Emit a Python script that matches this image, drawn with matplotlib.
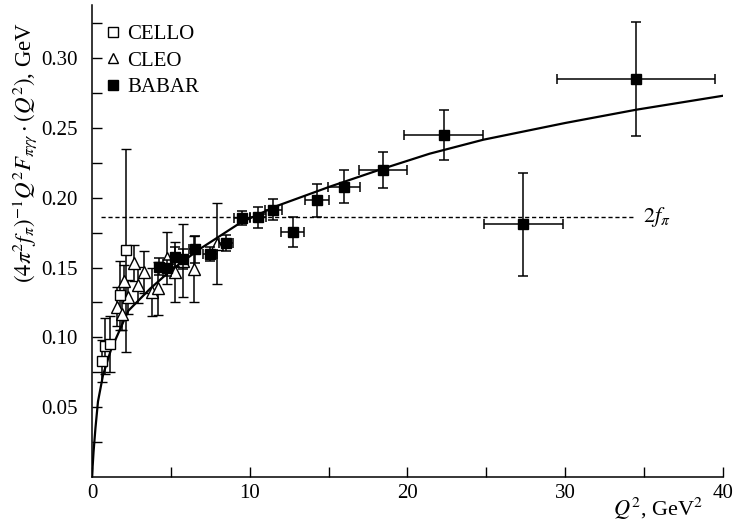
import numpy as np
import matplotlib
matplotlib.use("Agg")
import matplotlib.pyplot as plt

plt.rcParams['font.family'] = 'Liberation Serif'
plt.rcParams['mathtext.fontset'] = 'stix'

# CELLO (open squares)
cello_q2 = [0.61, 0.82, 1.14, 1.77, 2.15]
cello_v = [0.083, 0.094, 0.095, 0.130, 0.1626]
cello_lo = [0.015, 0.020, 0.020, 0.025, 0.073]
cello_hi = [0.015, 0.020, 0.020, 0.025, 0.072]

# CLEO (open triangles)
cleo_q2 = [1.56, 1.88, 2.05, 2.30, 2.68, 2.90, 3.30, 3.78, 4.20, 4.73, 5.26, 5.74, 6.46, 7.95]
cleo_v = [0.122, 0.117, 0.140, 0.129, 0.153, 0.1375, 0.147, 0.1325, 0.135, 0.157, 0.147, 0.155, 0.149, 0.167]
cleo_err = [0.014, 0.012, 0.012, 0.012, 0.013, 0.013, 0.015, 0.017, 0.019, 0.0185, 0.0215, 0.026, 0.0235, 0.029]

# BABAR (filled squares)
babar_q2 = [4.25, 4.75, 5.26, 5.77, 6.50, 7.48, 8.50, 9.50, 10.50, 11.50, 12.72, 14.27, 15.97, 18.44, 22.30, 27.35, 34.50]
babar_v = [0.1505, 0.1497, 0.1576, 0.156, 0.163, 0.160, 0.1676, 0.1855, 0.186, 0.1915, 0.1755, 0.198, 0.208, 0.220, 0.245, 0.181, 0.285]
babar_yerr = [0.006, 0.006, 0.007, 0.007, 0.0095, 0.005, 0.006, 0.005, 0.0075, 0.0075, 0.0105, 0.012, 0.012, 0.013, 0.018, 0.037, 0.041]
babar_xerr = [0.25, 0.25, 0.25, 0.25, 0.35, 0.45, 0.45, 0.5, 0.5, 0.55, 0.75, 0.76, 1.0, 1.5, 2.5, 2.5, 5.0]

# theory curve
curve_q2 = [0, 0.1, 0.22, 0.38, 0.7, 1.2, 2.3, 3.7, 5.0, 6.8, 9.4, 11.7, 15.1, 18.5, 21.4, 24.8, 30.0, 34.5, 40.0]
curve_v = [0, 0.018, 0.035, 0.054, 0.073, 0.091, 0.119, 0.135, 0.148, 0.163, 0.182, 0.194, 0.208, 0.221, 0.2315, 0.2415, 0.2535, 0.263, 0.273]

two_fpi = 0.186

fig = plt.figure(figsize=(7.37, 5.24), dpi=100)
ax = fig.add_axes([0.1248, 0.0897, 0.8562, 0.9008])

ax.plot(curve_q2, curve_v, color='black', lw=1.6, zorder=2)
ax.plot([0.6, 34.3], [two_fpi, two_fpi], color='black', lw=1.0, dashes=(3, 2), zorder=1)
ax.text(34.9, two_fpi, r'$2f_\pi$', fontsize=16, va='center', ha='left')

ekw = dict(ecolor='black', elinewidth=1.1, capsize=3.5, capthick=1.1, linestyle='none')
ax.errorbar(cleo_q2, cleo_v, yerr=cleo_err, marker='^', ms=8.5, mfc='white', mec='black',
            mew=1.0, zorder=3, **ekw)
ax.errorbar(cello_q2, cello_v, yerr=[cello_lo, cello_hi], marker='s', ms=7, mfc='white', mec='black',
            mew=1.0, zorder=3, **ekw)
ax.errorbar(babar_q2, babar_v, yerr=babar_yerr, xerr=babar_xerr, marker='s', ms=7.5, mfc='black',
            mec='black', zorder=4, **ekw)

# legend
h1 = ax.plot([], [], 's', ms=6.5, mfc='white', mec='black', mew=1.0)[0]
h2 = ax.plot([], [], '^', ms=7.5, mfc='white', mec='black', mew=1.0)[0]
h3 = ax.plot([], [], 's', ms=7, mfc='black', mec='black')[0]
ax.legend([h1, h2, h3], ['CELLO', 'CLEO', 'BABAR'], loc='upper left', bbox_to_anchor=(-0.01, 0.998),
          frameon=False, fontsize=15, handlelength=0.8, handletextpad=0.3, labelspacing=0.33,
          borderaxespad=0.5)

ax.set_xlim(0, 40)
ax.set_ylim(0, 0.338)
ax.set_xticks([0, 10, 20, 30, 40])
ax.set_xticks([5, 15, 25, 35], minor=True)
ax.set_yticks([0.05, 0.10, 0.15, 0.20, 0.25, 0.30])
ax.set_yticks([0.025, 0.075, 0.125, 0.175, 0.225, 0.275, 0.325], minor=True)
ax.set_yticklabels(['0.05', '0.10', '0.15', '0.20', '0.25', '0.30'])
ax.tick_params(which='both', direction='in', width=1.0, labelsize=15)
ax.tick_params(which='major', length=7)
ax.tick_params(which='minor', length=7)
ax.tick_params(axis='x', pad=5)
ax.tick_params(axis='y', pad=10)
for s in ['top', 'right']:
    ax.spines[s].set_visible(False)
for s in ['left', 'bottom']:
    ax.spines[s].set_linewidth(1.1)

fig.text(0.034, 0.71, r'$(4\pi^2 f_\pi)^{-1}Q^2F_{\pi\gamma\gamma}\cdot(Q^2)$, GeV',
         rotation=90, ha='center', va='center', fontsize=16.5)
fig.text(0.954, 0.004, r'$Q^2$, GeV$^2$', ha='right', va='bottom', fontsize=16)

fig.savefig('out.png', dpi=100)
